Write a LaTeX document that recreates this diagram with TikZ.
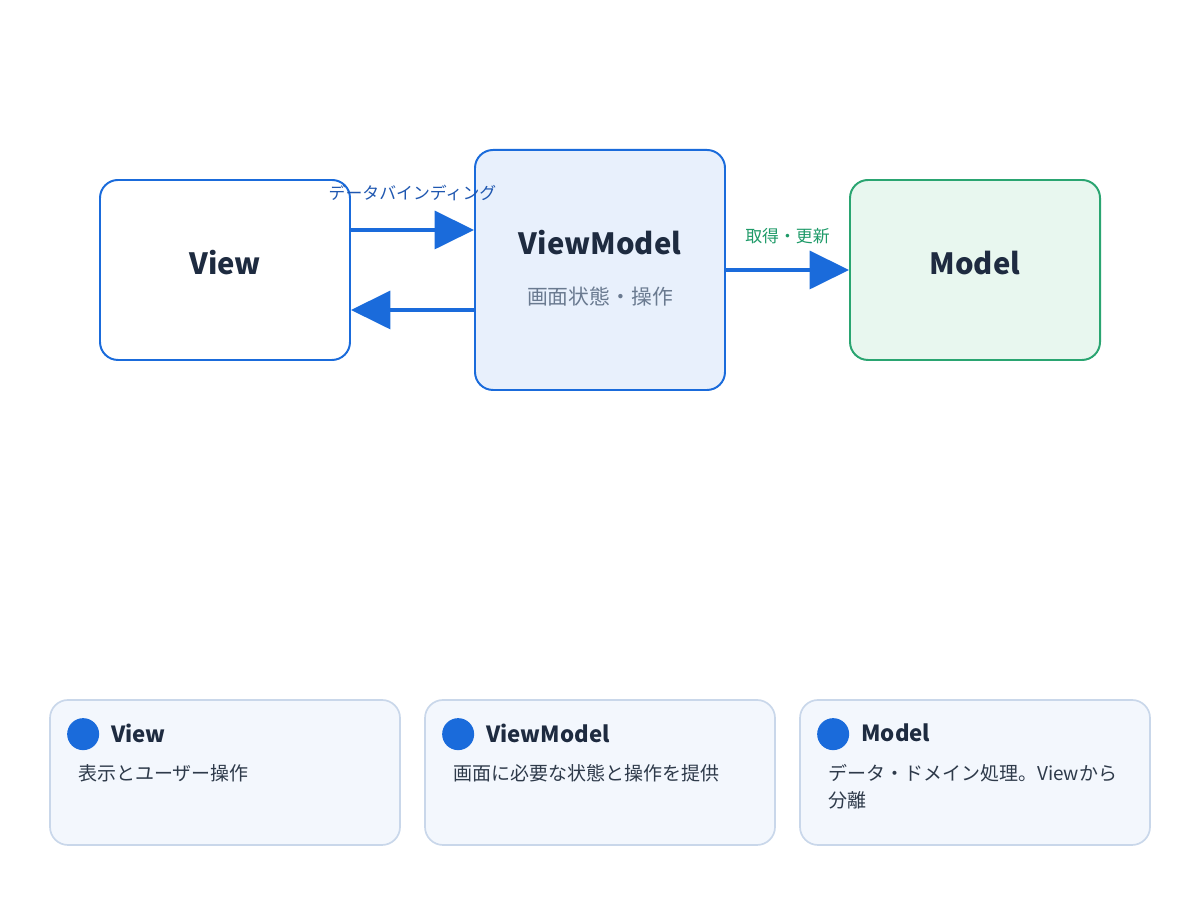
\documentclass[tikz,border=0pt]{standalone}
\usepackage{fontspec}
\setmainfont{Noto Sans CJK JP}
\usetikzlibrary{arrows.meta,positioning,calc}

\definecolor{mvblue}{HTML}{1A6BDB}
\definecolor{mvlabel}{HTML}{1F57B0}
\definecolor{mvgreen}{HTML}{2AA571}
\definecolor{mvgreentxt}{HTML}{1E9A68}
\definecolor{mvdark}{HTML}{1E2B40}
\definecolor{mvgray}{HTML}{6A7A90}
\definecolor{mvtext}{HTML}{2E3A4A}
\definecolor{vmfill}{HTML}{E8F0FC}
\definecolor{modelfill}{HTML}{E8F7EF}
\definecolor{cardfill}{HTML}{F3F7FD}
\definecolor{cardline}{HTML}{C9D7EA}

\tikzset{
  box/.style={draw=mvblue, line width=1.4pt, rounded corners=0.45cm,
    minimum width=6.25cm, minimum height=4.5cm, inner sep=0pt},
  boxtitle/.style={text=mvdark, font=\fontsize{20.8}{25}\selectfont\bfseries, inner sep=0pt},
  boxsub/.style={text=mvgray, font=\fontsize{14.8}{18}\selectfont, inner sep=0pt},
  flow/.style={draw=mvblue, line width=2.4pt, -{Triangle[length=28pt,width=27pt]}},
  flowlabel/.style={font=\fontsize{12}{14}\selectfont, inner sep=0pt},
  card/.style={draw=cardline, fill=cardfill, line width=1.2pt, rounded corners=0.45cm,
    minimum width=8.75cm, minimum height=3.625cm, inner sep=0pt},
  dot/.style={circle, fill=mvblue, minimum size=0.8cm, inner sep=0pt},
  cardtitle/.style={anchor=west, text=mvdark, font=\fontsize{15.8}{19}\selectfont\bfseries, inner sep=0pt},
  carddesc/.style={anchor=north west, text=mvtext, align=left,
    font=\fontsize{13.5}{19.1}\selectfont, inner sep=0pt},
}

\begin{document}
\begin{tikzpicture}
  \useasboundingbox (0,0) rectangle (30,22.5);

  % Main boxes
  \node (view) [box, fill=white] at (5.625,15.75) {};
  \node (vm) [box, fill=vmfill, minimum height=6cm] at (15,15.75) {};
  \node (model) [box, draw=mvgreen, fill=modelfill] at (24.375,15.75) {};

  \node (viewname) [boxtitle] at ([yshift=0.175cm]view.center) {View};
  \node (vmname) [boxtitle] at ([yshift=0.675cm]vm.center) {ViewModel};
  \node (vmsub) [boxsub] at ([yshift=-0.675cm]vm.center) {画面状態・操作};
  \node (modelname) [boxtitle] at ([yshift=0.175cm]model.center) {Model};

  % Arrows between boxes
  \coordinate (bindfrom) at ([yshift=1cm]view.east);
  \coordinate (bindto) at ([yshift=1cm]vm.west);
  \coordinate (backfrom) at ([yshift=-1cm]vm.west);
  \coordinate (backto) at ([yshift=-1cm]view.east);
  \draw [flow] (bindfrom) -- (bindto);
  \draw [flow] (backfrom) -- (backto);
  \draw [flow] (vm.east) -- (model.west);

  \node (bindlabel) [flowlabel, text=mvlabel] at ($(bindfrom)!0.5!(bindto)+(0,0.925)$) {データバインディング};
  \node (fetchlabel) [flowlabel, text=mvgreentxt] at ($(vm.east)!0.5!(model.west)+(0,0.85)$) {取得・更新};

  % Legend cards
  \foreach \name/\cx/\title/\desc in {
      cview/5.625/View/表示とユーザー操作,
      cvm/15/ViewModel/画面に必要な状態と操作を提供,
      cmodel/24.375/Model/{データ・ドメイン処理。Viewから\\分離}} {
    \node (\name) [card] at (\cx,3.1875) {};
    \node (\name dot) [dot] at ([shift={(0.85cm,-0.875cm)}]\name.north west) {};
    \node (\name title) [cardtitle] at ([shift={(1.55cm,-0.85cm)}]\name.north west) {\title};
    \node (\name desc) [carddesc] at ([shift={(0.725cm,-1.625cm)}]\name.north west) {\desc};
  }
\end{tikzpicture}
\end{document}
